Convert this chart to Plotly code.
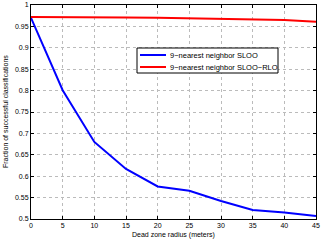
import plotly.graph_objects as go

radius = [0, 5, 10, 15, 20, 25, 30, 35, 40, 45]
sloo = [0.970, 0.801, 0.680, 0.617, 0.576, 0.566, 0.542, 0.521, 0.515, 0.507]
sloo_rlo = [0.972, 0.972, 0.971, 0.971, 0.970, 0.969, 0.968, 0.967, 0.965, 0.961]
names = ["9\u2212nearest neighbor SLOO", "9\u2212nearest neighbor SLOO\u2212RLO"]
colors = ["#0000ff", "#ff0000"]
xticks = [0, 5, 10, 15, 20, 25, 30, 35, 40, 45]
yticks = [0.5, 0.55, 0.6, 0.65, 0.7, 0.75, 0.8, 0.85, 0.9, 0.95, 1.0]
ytext = ["0.5", "0.55", "0.6", "0.65", "0.7", "0.75", "0.8", "0.85", "0.9", "0.95", "1"]

fig = go.Figure()
for ys, nm, c in zip([sloo, sloo_rlo], names, colors):
    fig.add_trace(go.Scatter(x=radius, y=ys, mode="lines", name=nm,
                             line=dict(color=c, width=2), showlegend=False))

FAM = "Liberation Sans, Arial, sans-serif"
font = dict(family=FAM, size=7, color="black")
axis_common = dict(showline=True, linecolor="black", linewidth=1, mirror="ticks",
                   ticks="inside", ticklen=3, tickcolor="black", showgrid=True,
                   gridcolor="#bbbbbb", griddash="dot", gridwidth=1, zeroline=False,
                   tickfont=font, automargin=False)

L, R, T, B = 31, 5, 5, 22
W, H = 321, 241
pw, ph = W - L - R, H - T - B

def px(xp):
    return (xp - L) / pw

def py(yp):
    return (H - B - yp) / ph

shapes = [dict(type="rect", xref="paper", yref="paper", x0=px(137), x1=px(278),
               y0=py(73), y1=py(48), line=dict(color="black", width=1), fillcolor="white", layer="above")]
annotations = []
for i, (nm, c) in enumerate(zip(names, colors)):
    yy = py(55 + 12 * i)
    shapes.append(dict(type="line", xref="paper", yref="paper", x0=px(140), x1=px(166),
                       y0=yy, y1=yy, line=dict(color=c, width=2), layer="above"))
    annotations.append(dict(text=nm, xref="paper", yref="paper", x=px(168), y=yy,
                            xanchor="left", yanchor="middle", showarrow=False,
                            font=dict(family=FAM, size=7.5, color="black")))

annotations.append(dict(text="Dead zone radius (meters)", xref="paper", yref="paper",
                        x=0.5, y=py(235), xanchor="center", yanchor="middle",
                        showarrow=False, font=font))
annotations.append(dict(text="Fraction of successful classifications", xref="paper", yref="paper",
                        x=px(5), y=0.5, xanchor="center", yanchor="middle", textangle=-90,
                        showarrow=False, font=font))

fig.update_layout(
    width=W, height=H,
    margin=dict(l=L, r=R, t=T, b=B),
    paper_bgcolor="white", plot_bgcolor="white",
    font=font,
    showlegend=False,
    shapes=shapes,
    annotations=annotations,
    xaxis=dict(range=[0, 45], tickvals=xticks, **axis_common),
    yaxis=dict(range=[0.5, 1.0], tickvals=yticks, ticktext=ytext, **axis_common),
)
fig.write_html("out.html", config={"displayModeBar": False},
               post_script="document.body.style.margin='0';document.body.style.overflow='hidden';")
